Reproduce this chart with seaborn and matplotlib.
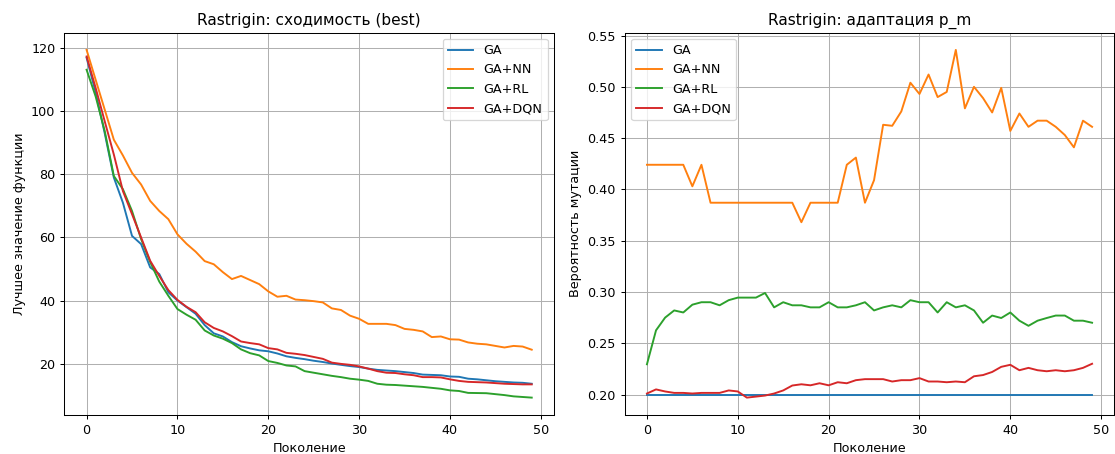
import matplotlib
matplotlib.use('Agg')
import matplotlib.pyplot as plt
import seaborn as sns
import pandas as pd

# данные
gens = list(range(50))
methods = ['GA', 'GA+NN', 'GA+RL', 'GA+DQN']

best_ga = [117, 106, 93, 79, 71, 60.5, 57.9, 50.5, 48.4, 42.6,
           40, 37.9, 35.8, 32.2, 29.6, 28.6, 26.8, 25.5, 24.8, 24.2,
           23.9, 23.2, 22.3, 21.8, 21.4, 20.9, 20.5, 20, 19.6, 19.2,
           18.9, 18.4, 18, 17.8, 17.6, 17.3, 17, 16.5, 16.4, 16.3,
           15.9, 15.8, 15.2, 15, 14.7, 14.4, 14.2, 14, 13.9, 13.6]
best_nn = [119.5, 110, 100.5, 91, 86, 80.5, 76.8, 71.6, 68.4, 65.8,
           61, 58, 55.5, 52.5, 51.5, 49, 46.8, 47.8, 46.5, 45.2,
           42.9, 41.2, 41.5, 40.3, 40.1, 39.8, 39.4, 37.5, 37, 35.2,
           34.2, 32.6, 32.6, 32.6, 32.2, 31, 30.7, 30.2, 28.4, 28.6,
           27.7, 27.6, 26.7, 26.3, 26.1, 25.6, 25.1, 25.6, 25.4, 24.4]
best_rl = [113.2, 104.7, 93.7, 79.5, 75.3, 68.4, 59.5, 52.2, 46, 41.5,
           37.3, 35.5, 33.9, 30.5, 28.9, 27.9, 26.5, 24.5, 23.3, 22.6,
           20.8, 20.2, 19.4, 19.1, 17.6, 17.1, 16.6, 16.1, 15.7, 15.2,
           14.9, 14.5, 13.6, 13.3, 13.2, 13, 12.8, 12.6, 12.3, 12,
           11.5, 11.3, 10.7, 10.65, 10.6, 10.3, 10, 9.6, 9.4, 9.2]
best_dqn = [117.4, 107.4, 96.8, 86.3, 74.7, 67.4, 60, 52.6, 47.8, 43.3,
            40.2, 38, 36.3, 33.1, 31.3, 30.2, 28.7, 27, 26.5, 26.1,
            24.9, 24.5, 23.4, 23.1, 22.7, 22.1, 21.5, 20.3, 19.9, 19.6,
            19.1, 18.4, 17.6, 17.1, 17, 16.6, 16.3, 15.7, 15.7, 15.6,
            15, 14.5, 14.2, 14.1, 14, 13.8, 13.6, 13.5, 13.4, 13.4]

pm_ga = [0.2] * 50
pm_nn = [0.424, 0.424, 0.424, 0.424, 0.424, 0.403, 0.424, 0.387, 0.387, 0.387,
         0.387, 0.387, 0.387, 0.387, 0.387, 0.387, 0.387, 0.368, 0.387, 0.387,
         0.387, 0.387, 0.424, 0.431, 0.387, 0.409, 0.463, 0.462, 0.476, 0.504,
         0.493, 0.512, 0.490, 0.495, 0.536, 0.479, 0.500, 0.489, 0.475, 0.499,
         0.457, 0.474, 0.461, 0.467, 0.467, 0.461, 0.453, 0.441, 0.467, 0.461]
pm_rl = [0.2295, 0.2626, 0.275, 0.282, 0.280, 0.2876, 0.290, 0.290, 0.287, 0.292,
         0.2945, 0.2945, 0.2945, 0.299, 0.285, 0.290, 0.287, 0.287, 0.285, 0.285,
         0.290, 0.285, 0.285, 0.287, 0.290, 0.282, 0.285, 0.287, 0.285, 0.292,
         0.290, 0.290, 0.280, 0.290, 0.285, 0.287, 0.282, 0.270, 0.277, 0.2746,
         0.280, 0.272, 0.267, 0.272, 0.2746, 0.277, 0.277, 0.272, 0.272, 0.270]
pm_dqn = [0.201, 0.205, 0.203, 0.2016, 0.2016, 0.201, 0.2016, 0.2016, 0.2016, 0.204,
          0.203, 0.197, 0.198, 0.199, 0.201, 0.204, 0.2088, 0.210, 0.209, 0.211,
          0.209, 0.212, 0.211, 0.214, 0.215, 0.215, 0.215, 0.2127, 0.214, 0.214,
          0.216, 0.2127, 0.2127, 0.212, 0.2127, 0.212, 0.2178, 0.219, 0.222, 0.227,
          0.229, 0.2237, 0.226, 0.2237, 0.2227, 0.2237, 0.2227, 0.2237, 0.226, 0.230]


def to_long(series):
    rows = []
    for name, vals in zip(methods, series):
        for g, v in zip(gens, vals):
            rows.append({'gen': g, 'value': v, 'method': name})
    return pd.DataFrame(rows)


df_best = to_long([best_ga, best_nn, best_rl, best_dqn])
df_pm = to_long([pm_ga, pm_nn, pm_rl, pm_dqn])

# картинка чуть мельче стандартной — dpi 92 вместо 100
fig, (ax1, ax2) = plt.subplots(1, 2, figsize=(1115 / 92, 454 / 92), dpi=92)
fig.subplots_adjust(left=0.0577, right=0.9994, top=0.9284, bottom=0.0859, wspace=0.1444)

sns.lineplot(data=df_best, x='gen', y='value', hue='method', hue_order=methods,
             palette='tab10', ax=ax1)
ax1.set_title('Rastrigin: сходимость (best)')
ax1.set_xlabel('Поколение')
ax1.set_ylabel('Лучшее значение функции')
ax1.grid(True)
ax1.legend(loc='upper right')

sns.lineplot(data=df_pm, x='gen', y='value', hue='method', hue_order=methods,
             palette='tab10', ax=ax2)
ax2.set_title('Rastrigin: адаптация p_m')
ax2.set_xlabel('Поколение')
ax2.set_ylabel('Вероятность мутации')
ax2.grid(True)
ax2.legend(loc='upper left')

plt.savefig('out.png', dpi=92)
plt.close()
